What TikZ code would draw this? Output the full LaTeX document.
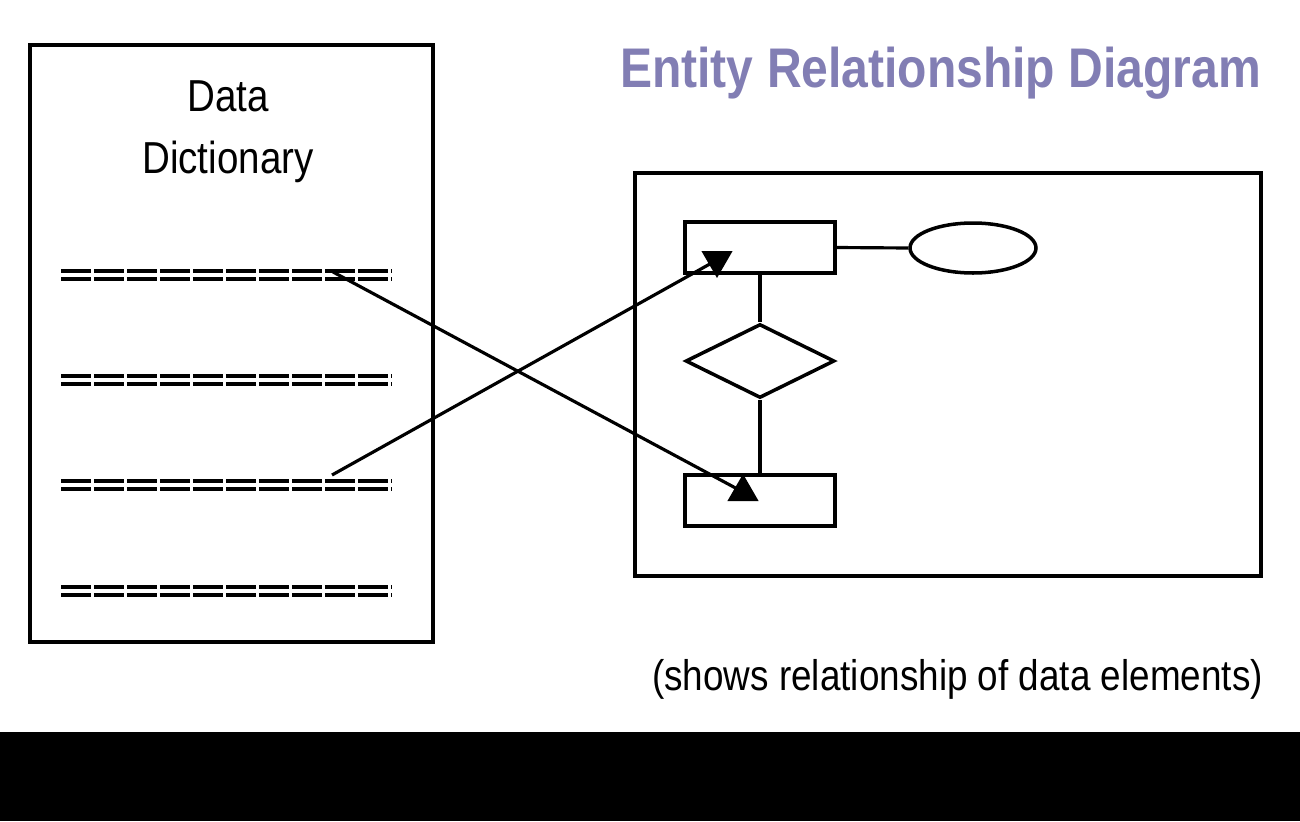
\documentclass[tikz,border=0pt]{standalone}
\usepackage{fontspec}
\setmainfont{Liberation Sans}
\newfontfamily\narrowsf[FakeStretch=0.86]{Liberation Sans}
\usetikzlibrary{shapes.geometric}
\definecolor{titlepurple}{RGB}{130,126,180}

\begin{document}
\begin{tikzpicture}[x=0.02cm,y=-0.02cm,
  box/.style={draw,line width=2pt,inner sep=0pt},
  link/.style={line width=1.8pt},
  field/.style={line width=1.8pt,dash pattern=on 0.6cm off 0.06cm},
  head/.style={regular polygon,regular polygon sides=3,fill=black,inner sep=0pt,minimum size=0.72cm}]
\useasboundingbox (0,0) rectangle (1300,821);
\fill[black] (0,732) rectangle (1300,821);
\node[box,minimum width=8.06cm,minimum height=11.94cm] (dict) at (231.5,343.5) {};
\node[anchor=base,font=\narrowsf\fontsize{25.5}{30}\selectfont] (dictA) at (228,112) {Data};
\node[anchor=base,font=\narrowsf\fontsize{25.5}{30}\selectfont] (dictB) at (228,173) {Dictionary};
\foreach \y in {271,376,481,587} {
  \draw[field] (61,\y) -- (391,\y);
  \draw[field] (61,\y+8) -- (391,\y+8);
}
\node[anchor=base west,text=titlepurple,font=\narrowsf\bfseries\fontsize{31.8}{36}\selectfont] (title) at (614,88) {Entity Relationship Diagram};
\node[box,minimum width=12.52cm,minimum height=8.06cm] (erd) at (948,374.5) {};
\node[box,minimum width=3cm,minimum height=1.02cm] (enta) at (760,247.5) {};
\node[box,ellipse,minimum width=2.52cm,minimum height=1cm] (attr) at (973,248) {};
\node[box,diamond,minimum width=2.98cm,minimum height=1.48cm] (rel) at (760,361) {};
\node[box,minimum width=3cm,minimum height=1.02cm] (entb) at (760,500.5) {};
\draw[link] (enta.east) -- (attr.west);
\draw[link] (enta.south) -- (rel.north);
\draw[link] (rel.south) -- (entb.north);
\coordinate (fa) at (333,272);
\coordinate (fc) at (332,475);
\node[head] (tipb) at (743,492) {};
\node[head,rotate=180] (tipa) at (717,260) {};
\draw[link] (fa) -- (tipb.center);
\draw[link] (fc) -- (tipa.center);
\node[anchor=base west,font=\narrowsf\fontsize{24.4}{30}\selectfont] (note) at (646,690) {(shows relationship of data elements)};
\end{tikzpicture}
\end{document}
